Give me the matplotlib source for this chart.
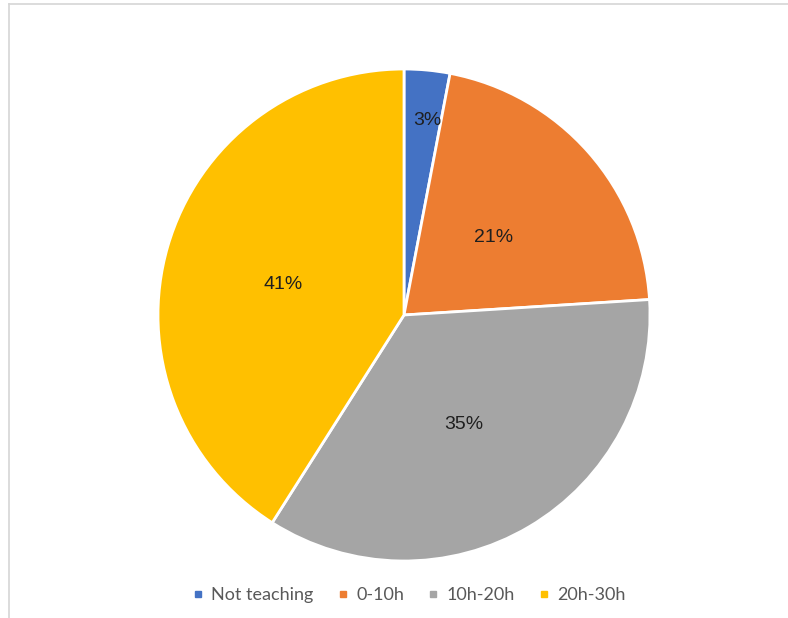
import numpy as np
import matplotlib.pyplot as plt
from matplotlib.lines import Line2D

labels = ["Not teaching", "0-10h", "10h-20h", "20h-30h"]
shares = [3, 21, 35, 41]
colors = ["#4472C4", "#ED7D31", "#A5A5A5", "#FFC000"]

fig = plt.figure(figsize=(7.88, 6.18), dpi=100)

# faint frame on the top and left edges
fig.add_artist(Line2D([0.011, 1.0], [0.994, 0.994], color="#d6d6d6", lw=1.2))
fig.add_artist(Line2D([0.011, 0.011], [0.0, 0.994], color="#d6d6d6", lw=1.2))

ax = fig.add_axes([(404 - 246) / 788, (618 - 315 - 246) / 618, 492 / 788, 492 / 618])
wedges, texts, autotexts = ax.pie(
    shares,
    colors=colors,
    startangle=90,
    counterclock=False,
    autopct="%d%%",
    pctdistance=0.5,
    wedgeprops={"edgecolor": "white", "linewidth": 2},
    textprops={"family": "Liberation Sans", "fontsize": 14, "color": "#1f1f1f"},
)
ax.set_xlim(-1, 1)
ax.set_ylim(-1, 1)
ax.set_aspect("equal")

# label radii: the thin first slice gets its label pushed outward
radii = [0.81, 0.5, 0.5, 0.5]
dx = [0.02, -0.01, -0.01, -0.01]
for w, t, r, d in zip(wedges, autotexts, radii, dx):
    mid = np.deg2rad((w.theta1 + w.theta2) / 2)
    t.set_position((r * np.cos(mid) + d, r * np.sin(mid) - 0.016))

handles = [Line2D([], [], marker="s", linestyle="none", markersize=5,
                  markerfacecolor=c, markeredgecolor=c) for c in colors]
fig.legend(
    handles, labels,
    loc="center",
    bbox_to_anchor=(409 / 788, 1 - 595 / 618),
    ncol=4,
    frameon=False,
    handlelength=0.6,
    handletextpad=0.45,
    columnspacing=1.3,
    prop={"family": "Lato", "size": 13},
    labelcolor="#595959",
)

fig.savefig("out.png", dpi=100)
